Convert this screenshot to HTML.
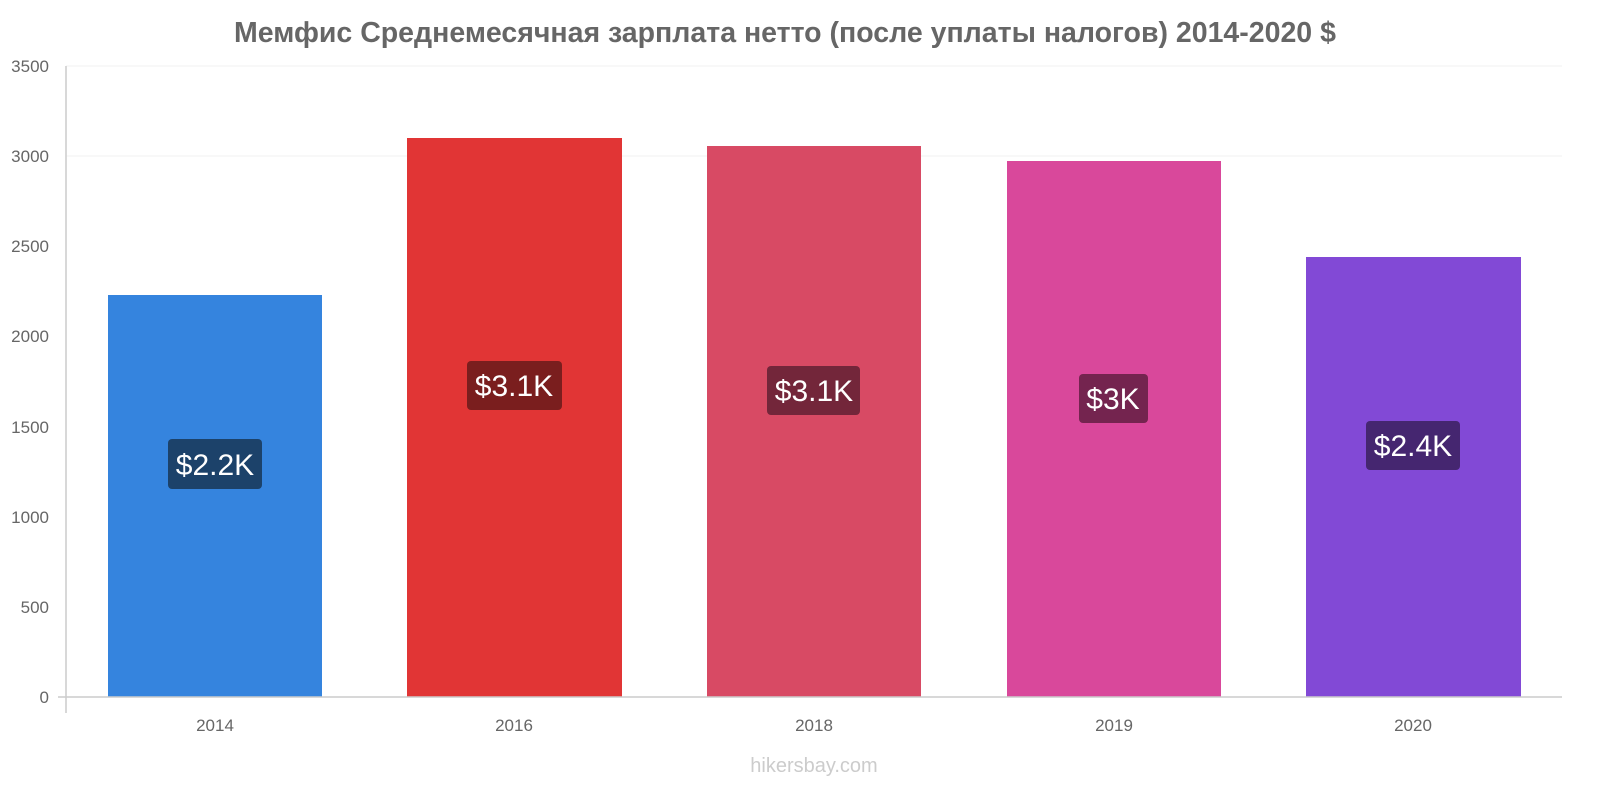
<!DOCTYPE html>
<html><head><meta charset="utf-8"><style>
html,body{margin:0;padding:0;background:#fff;width:1600px;height:800px;overflow:hidden}
svg{display:block;font-family:"Liberation Sans",sans-serif}
</style></head><body>
<svg width="1600" height="800" viewBox="0 0 1600 800">
<text x="785" y="42" text-anchor="middle" font-size="28.5" font-weight="bold" fill="#666">Мемфис Среднемесячная зарплата нетто (после уплаты налогов) 2014-2020 $</text>
<g stroke="#f2f2f2" stroke-width="1">
<line x1="66" y1="66" x2="1562" y2="66"/><line x1="66" y1="156" x2="1562" y2="156"/>
</g>
<g font-size="17" fill="#666" text-anchor="end">
<text x="49" y="72">3500</text><text x="49" y="162">3000</text><text x="49" y="252">2500</text>
<text x="49" y="342">2000</text><text x="49" y="433">1500</text><text x="49" y="523">1000</text>
<text x="49" y="613">500</text><text x="49" y="703">0</text>
</g>
<rect x="108" y="295" width="214" height="402" fill="#3584de"/>
<rect x="407" y="138" width="215" height="559" fill="#e13535"/>
<rect x="707" y="146" width="214" height="551" fill="#d84a64"/>
<rect x="1007" y="161" width="214" height="536" fill="#d9489b"/>
<rect x="1306" y="257" width="215" height="440" fill="#8249d6"/>
<line x1="66" y1="66" x2="66" y2="713" stroke="#ccc" stroke-width="1.5"/>
<line x1="58" y1="697" x2="1562" y2="697" stroke="#ccc" stroke-width="1.5"/>
<rect x="168" y="439" width="94" height="50" rx="4" fill="#1c426a"/>
<text x="215" y="475" text-anchor="middle" font-size="30" fill="#fff">$2.2K</text>
<rect x="467" y="361" width="95" height="49" rx="4" fill="#7a1e1e"/>
<text x="514" y="396" text-anchor="middle" font-size="30" fill="#fff">$3.1K</text>
<rect x="767" y="366" width="93" height="49" rx="4" fill="#73263a"/>
<text x="814" y="401" text-anchor="middle" font-size="30" fill="#fff">$3.1K</text>
<rect x="1079" y="374" width="69" height="49" rx="4" fill="#74244f"/>
<text x="1113" y="409" text-anchor="middle" font-size="30" fill="#fff">$3K</text>
<rect x="1366" y="421" width="94" height="49" rx="4" fill="#452670"/>
<text x="1413" y="456" text-anchor="middle" font-size="30" fill="#fff">$2.4K</text>
<g font-size="17" fill="#666" text-anchor="middle">
<text x="215" y="731">2014</text><text x="514" y="731">2016</text><text x="814" y="731">2018</text>
<text x="1114" y="731">2019</text><text x="1413" y="731">2020</text>
</g>
<text x="814" y="772" text-anchor="middle" font-size="20" fill="#ccc">hikersbay.com</text>
</svg>
</body></html>
